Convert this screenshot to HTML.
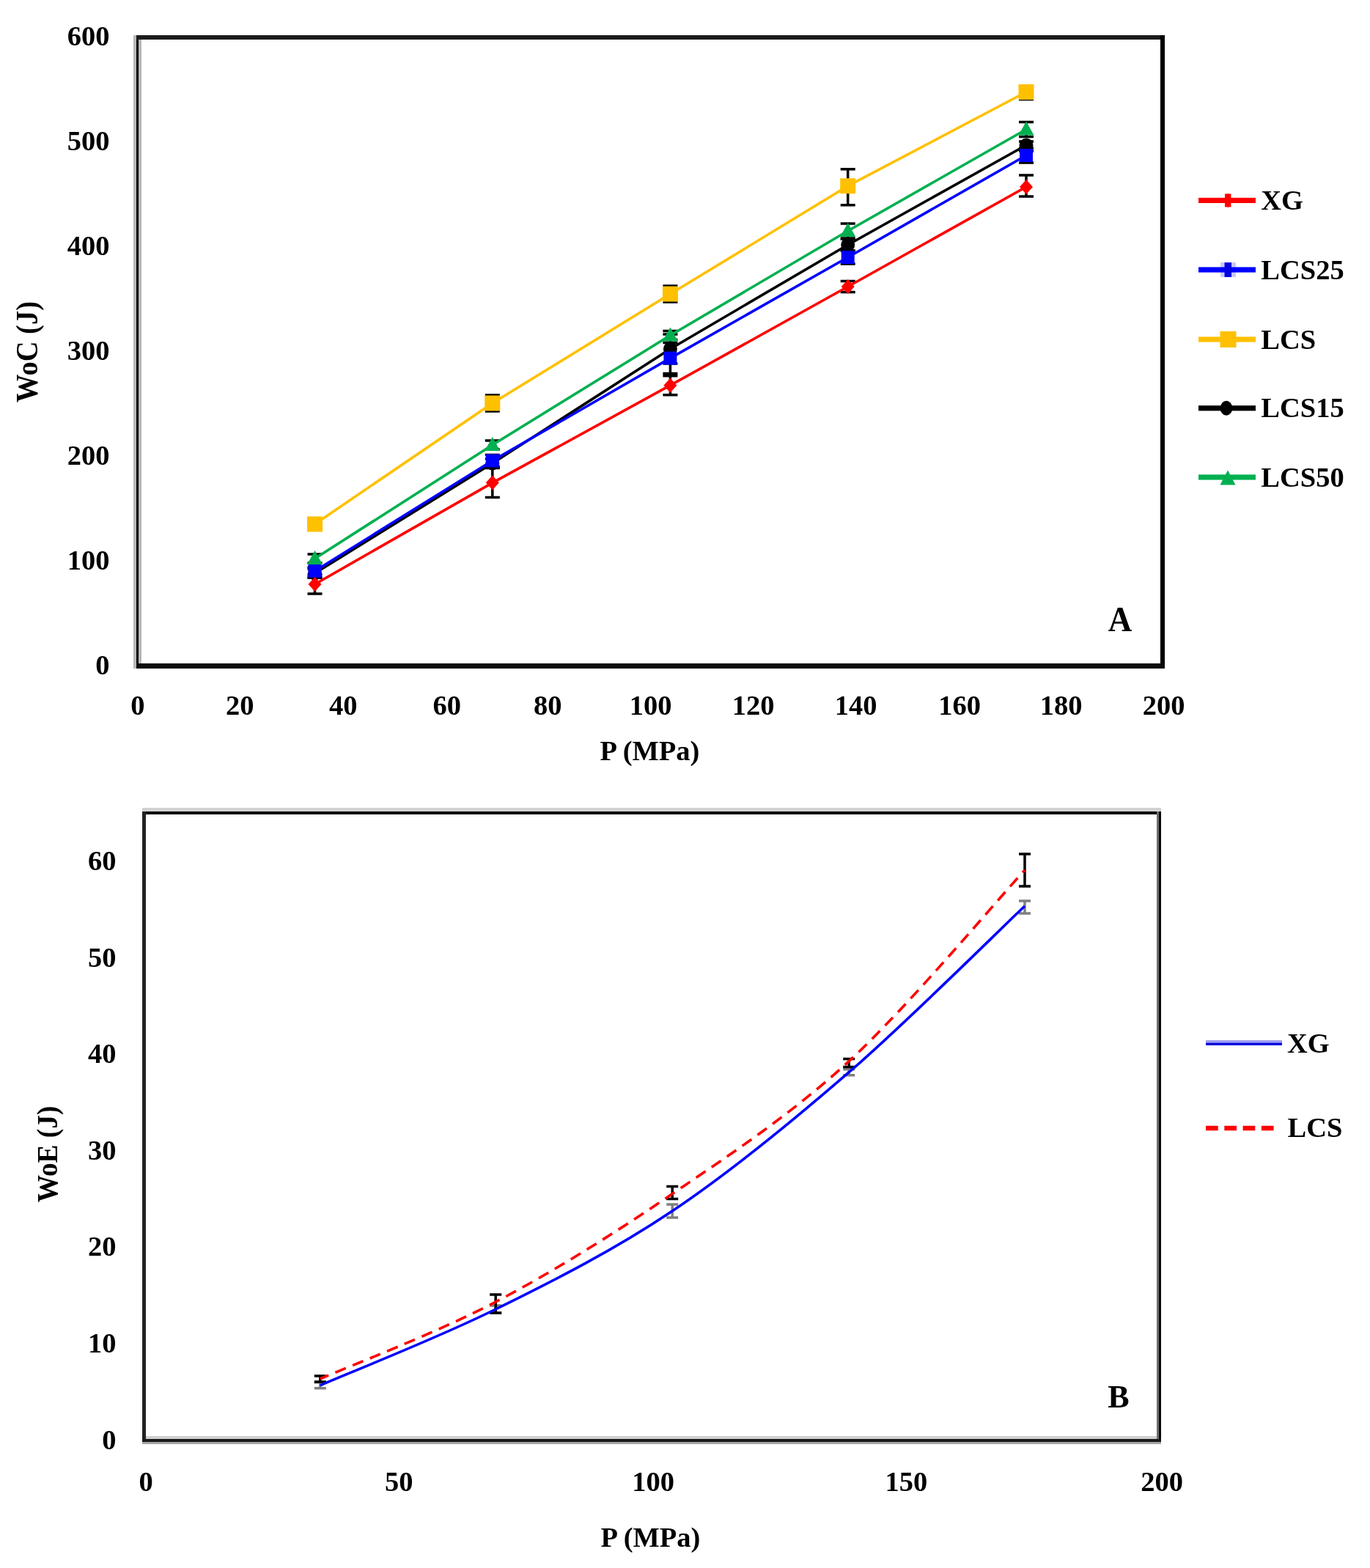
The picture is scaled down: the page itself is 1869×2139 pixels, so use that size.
<!DOCTYPE html>
<html><head><meta charset="utf-8"><title>WoC and WoE vs P</title>
<style>
html,body{margin:0;padding:0;background:#fff;}
body{width:1869px;height:2139px;overflow:hidden;position:relative;}
svg{position:absolute;left:0;top:0;}
text{font-family:"Liberation Serif","Times New Roman",serif;font-weight:bold;fill:#000;}
</style></head>
<body>
<svg width="1869" height="2139" viewBox="0 0 1869 2139">
<rect x="0" y="0" width="1869" height="2139" fill="#fff"/>
<g shape-rendering="crispEdges">
<rect x="182" y="48" width="11" height="864" fill="#b8b8b8"/>
<rect x="186" y="48" width="3" height="864" fill="#000"/>
<rect x="186" y="48" width="1403" height="6" fill="#1c1c1c"/>
<rect x="1583" y="48" width="6" height="864" fill="#000"/>
<rect x="186" y="905" width="1403" height="7" fill="#0a0a0a"/>
</g>
<text x="149.5" y="919.7" text-anchor="end" font-size="38.5" >0</text>
<text x="149.5" y="776.8" text-anchor="end" font-size="38.5" >100</text>
<text x="149.5" y="633.9" text-anchor="end" font-size="38.5" >200</text>
<text x="149.5" y="490.9" text-anchor="end" font-size="38.5" >300</text>
<text x="149.5" y="348.0" text-anchor="end" font-size="38.5" >400</text>
<text x="149.5" y="205.1" text-anchor="end" font-size="38.5" >500</text>
<text x="149.5" y="62.2" text-anchor="end" font-size="38.5" >600</text>
<text x="187.9" y="975.0" text-anchor="middle" font-size="38.5" >0</text>
<text x="327.2" y="975.0" text-anchor="middle" font-size="38.5" >20</text>
<text x="468.3" y="975.0" text-anchor="middle" font-size="38.5" >40</text>
<text x="609.8" y="975.0" text-anchor="middle" font-size="38.5" >60</text>
<text x="747.3" y="975.0" text-anchor="middle" font-size="38.5" >80</text>
<text x="887.5" y="975.0" text-anchor="middle" font-size="38.5" >100</text>
<text x="1027.7" y="975.0" text-anchor="middle" font-size="38.5" >120</text>
<text x="1167.6" y="975.0" text-anchor="middle" font-size="38.5" >140</text>
<text x="1309.0" y="975.0" text-anchor="middle" font-size="38.5" >160</text>
<text x="1447.5" y="975.0" text-anchor="middle" font-size="38.5" >180</text>
<text x="1587.5" y="975.0" text-anchor="middle" font-size="38.5" >200</text>
<text x="886.5" y="1037.0" text-anchor="middle" font-size="38.5" >P (MPa)</text>
<text transform="translate(51,480) rotate(-90) scale(1,1.12)" text-anchor="middle" font-size="38.5">WoC (J)</text>
<text transform="translate(1528,861) scale(1,1.08)" text-anchor="middle" font-size="45">A</text>
<g stroke="#000" stroke-width="3.5" fill="none">
<path d="M429.5,710.0V720.0M419.5,710.0H439.5M419.5,720.0H439.5"/>
<path d="M671.8,539.0V561.0M661.8,539.0H681.8M661.8,561.0H681.8"/>
<path d="M914.4,390.0V412.0M904.4,390.0H924.4M904.4,412.0H924.4"/>
<path d="M1156.7,230.7V279.7M1146.7,230.7H1166.7M1146.7,279.7H1166.7"/>
<path d="M1400.0,120.5V135.5M1390.0,120.5H1410.0M1390.0,135.5H1410.0"/>
<path d="M429.5,756.0V768.0M419.5,756.0H439.5M419.5,768.0H439.5"/>
<path d="M671.8,601.0V613.0M661.8,601.0H681.8M661.8,613.0H681.8"/>
<path d="M914.4,451.5V463.5M904.4,451.5H924.4M904.4,463.5H924.4"/>
<path d="M1156.7,305.0V325.0M1146.7,305.0H1166.7M1146.7,325.0H1166.7"/>
<path d="M1400.0,166.5V186.5M1390.0,166.5H1410.0M1390.0,186.5H1410.0"/>
<path d="M429.5,776.0V788.0M419.5,776.0H439.5M419.5,788.0H439.5"/>
<path d="M671.8,626.0V638.0M661.8,626.0H681.8M661.8,638.0H681.8"/>
<path d="M914.4,456.0V496.0M904.4,456.0H924.4M904.4,496.0H924.4"/>
<path d="M1156.7,326.0V342.0M1146.7,326.0H1166.7M1146.7,342.0H1166.7"/>
<path d="M1400.0,193.0V206.0M1390.0,193.0H1410.0M1390.0,206.0H1410.0"/>
<path d="M429.5,774.0V784.0M419.5,774.0H439.5M419.5,784.0H439.5"/>
<path d="M671.8,620.5V636.5M661.8,620.5H681.8M661.8,636.5H681.8"/>
<path d="M914.4,467.6V509.6M904.4,467.6H924.4M904.4,509.6H924.4"/>
<path d="M1156.7,342.0V360.0M1146.7,342.0H1166.7M1146.7,360.0H1166.7"/>
<path d="M1400.0,202.0V222.0M1390.0,202.0H1410.0M1390.0,222.0H1410.0"/>
<path d="M429.5,788.0V810.0M419.5,788.0H439.5M419.5,810.0H439.5"/>
<path d="M671.8,638.6V678.6M661.8,638.6H681.8M661.8,678.6H681.8"/>
<path d="M914.4,512.7V538.7M904.4,512.7H924.4M904.4,538.7H924.4"/>
<path d="M1156.7,383.5V398.5M1146.7,383.5H1166.7M1146.7,398.5H1166.7"/>
<path d="M1400.0,239.0V268.0M1390.0,239.0H1410.0M1390.0,268.0H1410.0"/>
</g>
<polyline points="429.5,715.0 671.8,550.0 914.4,401.0 1156.7,253.7 1400.0,125.5" fill="none" stroke="#ffc000" stroke-width="3.6" stroke-linejoin="round"/>
<polyline points="429.5,762.0 671.8,607.0 914.4,457.5 1156.7,315.0 1400.0,176.5" fill="none" stroke="#00b050" stroke-width="3.6" stroke-linejoin="round"/>
<polyline points="429.5,782.0 671.8,632.0 914.4,476.0 1156.7,334.0 1400.0,198.0" fill="none" stroke="#000000" stroke-width="3.6" stroke-linejoin="round"/>
<polyline points="429.5,779.0 671.8,628.5 914.4,488.6 1156.7,351.0 1400.0,212.0" fill="none" stroke="#0000ff" stroke-width="3.6" stroke-linejoin="round"/>
<polyline points="429.5,797.0 671.8,658.6 914.4,525.7 1156.7,391.0 1400.0,255.0" fill="none" stroke="#ff0000" stroke-width="3.6" stroke-linejoin="round"/>
<rect x="419.0" y="704.5" width="21" height="21" fill="#ffc000"/>
<rect x="661.3" y="539.5" width="21" height="21" fill="#ffc000"/>
<rect x="903.9" y="390.5" width="21" height="21" fill="#ffc000"/>
<rect x="1146.2" y="243.2" width="21" height="21" fill="#ffc000"/>
<rect x="1389.5" y="115.0" width="21" height="21" fill="#ffc000"/>
<path d="M429.5,751.0 L440.0,770.0 L419.0,770.0Z" fill="#00b050"/>
<path d="M671.8,596.0 L682.3,615.0 L661.3,615.0Z" fill="#00b050"/>
<path d="M914.4,446.5 L924.9,465.5 L903.9,465.5Z" fill="#00b050"/>
<path d="M1156.7,304.0 L1167.2,323.0 L1146.2,323.0Z" fill="#00b050"/>
<path d="M1400.0,165.5 L1410.5,184.5 L1389.5,184.5Z" fill="#00b050"/>
<circle cx="429.5" cy="782.0" r="9.5" fill="#000000"/>
<circle cx="671.8" cy="632.0" r="9.5" fill="#000000"/>
<circle cx="914.4" cy="476.0" r="9.5" fill="#000000"/>
<circle cx="1156.7" cy="334.0" r="9.5" fill="#000000"/>
<circle cx="1400.0" cy="198.0" r="9.5" fill="#000000"/>
<rect x="420.5" y="770.0" width="18" height="18" fill="#0000ff"/>
<rect x="662.8" y="619.5" width="18" height="18" fill="#0000ff"/>
<rect x="905.4" y="479.6" width="18" height="18" fill="#0000ff"/>
<rect x="1147.7" y="342.0" width="18" height="18" fill="#0000ff"/>
<rect x="1391.0" y="203.0" width="18" height="18" fill="#0000ff"/>
<path d="M429.5,787.0 L438.5,797.0 L429.5,807.0 L420.5,797.0Z" fill="#ff0000"/>
<path d="M671.8,648.6 L680.8,658.6 L671.8,668.6 L662.8,658.6Z" fill="#ff0000"/>
<path d="M914.4,515.7 L923.4,525.7 L914.4,535.7 L905.4,525.7Z" fill="#ff0000"/>
<path d="M1156.7,381.0 L1165.7,391.0 L1156.7,401.0 L1147.7,391.0Z" fill="#ff0000"/>
<path d="M1400.0,245.0 L1409.0,255.0 L1400.0,265.0 L1391.0,255.0Z" fill="#ff0000"/>
<rect x="1635" y="269.8" width="78" height="7.2" fill="#ff0000"/>
<path d="M1675.2,263.4 L1680,273.4 L1675.2,283.4 L1670.4,273.4Z" fill="#ff0000"/>
<rect x="1671" y="264.4" width="8.4" height="18" fill="#ff0000"/>
<text x="1720.3" y="285.9" text-anchor="start" font-size="38.5" >XG</text>
<rect x="1635" y="364.4" width="78" height="7.2" fill="#0000ff"/>
<rect x="1665" y="358.0" width="21" height="20" fill="#c8c8ff"/>
<rect x="1665" y="364.4" width="21" height="7.2" fill="#0000ff"/>
<rect x="1670.5" y="358.0" width="9.5" height="20" fill="#0000e0"/>
<text x="1720.3" y="380.5" text-anchor="start" font-size="38.5" >LCS25</text>
<rect x="1635" y="459.4" width="78" height="7.2" fill="#ffc000"/>
<rect x="1664.5" y="452.0" width="22" height="22" fill="#ffc000"/>
<text x="1720.3" y="475.5" text-anchor="start" font-size="38.5" >LCS</text>
<rect x="1635" y="553.2" width="78" height="7.2" fill="#000000"/>
<ellipse cx="1673" cy="556.8" rx="8.3" ry="10" fill="#000000"/>
<text x="1720.3" y="569.3" text-anchor="start" font-size="38.5" >LCS15</text>
<rect x="1635" y="647.4" width="78" height="7.2" fill="#00b050"/>
<path d="M1675,641.5 L1685.5,661.5 L1664.5,661.5Z" fill="#00b050"/>
<text x="1720.3" y="663.5" text-anchor="start" font-size="38.5" >LCS50</text>
<g shape-rendering="crispEdges">
<rect x="194" y="1102" width="1390" height="5" fill="#d2d2d2"/>
<rect x="194" y="1107" width="1390" height="4" fill="#050505"/>
<rect x="194" y="1107" width="5" height="860" fill="#222"/>
<rect x="1578" y="1107" width="3" height="856" fill="#6e6e6e"/>
<rect x="1581" y="1107" width="3" height="860" fill="#0a0a0a"/>
<rect x="199" y="1959" width="1379" height="4" fill="#d0d0d0"/>
<rect x="194" y="1963" width="1390" height="4" fill="#1a1a1a"/>
<rect x="194" y="1967" width="1390" height="3" fill="#a4a4a4"/>
</g>
<text x="158.5" y="1976.7" text-anchor="end" font-size="38.5" >0</text>
<text x="158.5" y="1845.1" text-anchor="end" font-size="38.5" >10</text>
<text x="158.5" y="1713.4" text-anchor="end" font-size="38.5" >20</text>
<text x="158.5" y="1581.8" text-anchor="end" font-size="38.5" >30</text>
<text x="158.5" y="1450.1" text-anchor="end" font-size="38.5" >40</text>
<text x="158.5" y="1318.5" text-anchor="end" font-size="38.5" >50</text>
<text x="158.5" y="1186.8" text-anchor="end" font-size="38.5" >60</text>
<text x="199.1" y="2034.0" text-anchor="middle" font-size="38.5" >0</text>
<text x="544.2" y="2034.0" text-anchor="middle" font-size="38.5" >50</text>
<text x="891.0" y="2034.0" text-anchor="middle" font-size="38.5" >100</text>
<text x="1236.4" y="2034.0" text-anchor="middle" font-size="38.5" >150</text>
<text x="1585.1" y="2034.0" text-anchor="middle" font-size="38.5" >200</text>
<text x="887.5" y="2110.0" text-anchor="middle" font-size="38.5" >P (MPa)</text>
<text transform="translate(77.5,1574.5) rotate(-90) scale(0.97,1.04)" text-anchor="middle" font-size="38.5">WoE (J)</text>
<text x="1526.0" y="1920.0" text-anchor="middle" font-size="44" >B</text>
<g stroke-width="3.5" fill="none">
<path stroke="#808080" d="M436.8,1885.8V1893.8M428.8,1885.8H444.8M428.8,1893.8H444.8"/>
<path stroke="#808080" d="M676.2,1781.0V1791.0M668.2,1781.0H684.2M668.2,1791.0H684.2"/>
<path stroke="#808080" d="M917.2,1643.0V1661.0M909.2,1643.0H925.2M909.2,1661.0H925.2"/>
<path stroke="#808080" d="M1158.2,1458.7V1466.7M1150.2,1458.7H1166.2M1150.2,1466.7H1166.2"/>
<path stroke="#808080" d="M1398.0,1229.0V1246.0M1390.0,1229.0H1406.0M1390.0,1246.0H1406.0"/>
<path stroke="#000" d="M436.8,1877.0V1885.0M428.8,1877.0H444.8M428.8,1885.0H444.8"/>
<path stroke="#000" d="M676.2,1766.0V1791.0M668.2,1766.0H684.2M668.2,1791.0H684.2"/>
<path stroke="#000" d="M917.2,1618.6V1635.6M909.2,1618.6H925.2M909.2,1635.6H925.2"/>
<path stroke="#000" d="M1158.2,1444.6V1455.6M1150.2,1444.6H1166.2M1150.2,1455.6H1166.2"/>
<path stroke="#000" d="M1398.0,1165.0V1209.0M1390.0,1165.0H1406.0M1390.0,1209.0H1406.0"/>
</g>
<path d="M436.8,1889.8 C476.7,1872.5 596.1,1825.6 676.2,1786.0 C756.3,1746.4 836.9,1705.9 917.2,1652.0 C997.5,1598.1 1078.1,1532.0 1158.2,1462.7 C1238.3,1393.4 1358.0,1273.8 1398.0,1236.0" fill="none" stroke="#0000ff" stroke-width="3.6"/>
<path d="M436.8,1881.0 C476.7,1863.5 596.1,1818.1 676.2,1776.0 C756.3,1733.9 836.9,1683.3 917.2,1628.6 C997.5,1573.9 1078.1,1521.2 1158.2,1447.6 C1238.3,1374.0 1358.0,1230.4 1398.0,1187.0" fill="none" stroke="#ff0000" stroke-width="3.6" stroke-dasharray="15.5 10" stroke-dashoffset="3"/>
<rect x="1645" y="1419" width="104" height="3.5" fill="#a0a0f0"/>
<rect x="1645" y="1422.5" width="104" height="3.5" fill="#0000dd"/>
<text x="1756.0" y="1435.5" text-anchor="start" font-size="38.5" >XG</text>
<line x1="1645" y1="1539" x2="1741" y2="1539" stroke="#ff0000" stroke-width="6.5" stroke-dasharray="16.7 8.6"/>
<text x="1756.5" y="1551.0" text-anchor="start" font-size="38.5" >LCS</text>
</svg>
</body></html>
